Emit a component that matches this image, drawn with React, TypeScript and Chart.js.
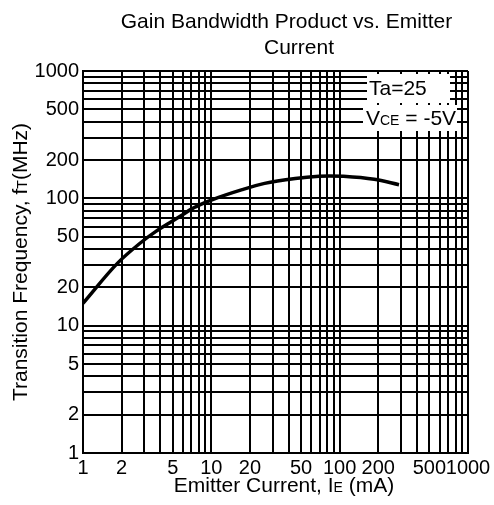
import React, { useEffect, useRef } from "react";
import { Chart, registerables } from "chart.js";

Chart.register(...registerables);

// ---- data ----
const emitterCurrentMA = [1, 1.86, 2.75, 3.7, 4.7, 5.8, 7.1, 8.8, 10, 17.4, 26, 45, 69, 83, 107, 186, 290];
const transitionFreqMHz = [15, 31, 44, 55, 64, 73, 83, 92, 97, 117, 131, 143, 149, 150, 149, 141, 128];

const xTickLabels = [1, 2, 5, 10, 20, 50, 100, 200, 500, 1000];
const yTickLabels = [1, 2, 5, 10, 20, 50, 100, 200, 500, 1000];
const gridMantissas = [1, 2, 3, 4, 5, 6, 7, 8, 9];
const gridDecades = [1, 10, 100];
const axisMin = 1;
const axisMax = 1000;

const titleLines = ["Gain Bandwidth Product vs. Emitter", "Current"];
const FONT = '"Liberation Sans", Arial, sans-serif';

type Seg = { text: string; size: number };

function drawRich(ctx: CanvasRenderingContext2D, segs: Seg[], x: number, y: number, align: "left" | "center") {
  let total = 0;
  const widths = segs.map((s) => {
    ctx.font = `${s.size}px ${FONT}`;
    const w = ctx.measureText(s.text).width;
    total += w;
    return w;
  });
  let cx = align === "center" ? x - total / 2 : x;
  ctx.textAlign = "left";
  ctx.textBaseline = "alphabetic";
  segs.forEach((s, i) => {
    ctx.font = `${s.size}px ${FONT}`;
    ctx.fillText(s.text, cx, y);
    cx += widths[i];
  });
}

function gridTicks() {
  const vals: { value: number }[] = [];
  gridDecades.forEach((d) => gridMantissas.forEach((m) => vals.push({ value: m * d })));
  vals.push({ value: axisMax });
  return vals;
}

const textPlugin = {
  id: "textPlugin",
  afterDraw(chart: any) {
    const ctx: CanvasRenderingContext2D = chart.ctx;
    const area = chart.chartArea;
    ctx.save();
    ctx.fillStyle = "#000";
    // title
    ctx.font = `21px ${FONT}`;
    ctx.textAlign = "center";
    ctx.textBaseline = "alphabetic";
    ctx.fillText(titleLines[0], 286.5, 28);
    ctx.fillText(titleLines[1], 299, 54);

    // condition boxes
    ctx.fillStyle = "#fff";
    ctx.fillRect(area.right - 101, area.top + 3, 83, 29);
    ctx.fillRect(area.right - 105, area.top + 34, 94, 26);
    ctx.fillStyle = "#000";
    drawRich(ctx, [{ text: "Ta=25", size: 21 }], area.right - 99, area.top + 24, "left");
    drawRich(
      ctx,
      [
        { text: "V", size: 21 },
        { text: "CE", size: 14 },
        { text: " = -5V", size: 21 },
      ],
      area.right - 102,
      area.top + 54,
      "left"
    );

    // x axis title
    drawRich(
      ctx,
      [
        { text: "Emitter Current, I", size: 21 },
        { text: "E", size: 14 },
        { text: " (mA)", size: 21 },
      ],
      284,
      492,
      "center"
    );

    // y axis title
    ctx.translate(27, (area.top + area.bottom) / 2);
    ctx.rotate(-Math.PI / 2);
    drawRich(
      ctx,
      [
        { text: "Transition Frequency, f", size: 21 },
        { text: "T", size: 14 },
        { text: "(MHz)", size: 21 },
      ],
      0,
      0,
      "center"
    );
    ctx.restore();
  },
};

export default function App() {
  const ref = useRef<HTMLCanvasElement | null>(null);

  useEffect(() => {
    if (!ref.current) return;
    const chart = new Chart(ref.current, {
      type: "line",
      data: {
        datasets: [
          {
            data: emitterCurrentMA.map((x, i) => ({ x, y: transitionFreqMHz[i] })),
            borderColor: "#000",
            borderWidth: 3.5,
            pointRadius: 0,
            tension: 0.4,
            cubicInterpolationMode: "monotone",
            fill: false,
          },
        ],
      },
      options: {
        responsive: false,
        animation: false,
        layout: { padding: { top: 71, right: 26, left: 0, bottom: 0 } },
        plugins: {
          legend: { display: false },
          title: { display: false },
          tooltip: { enabled: false },
        },
        scales: {
          x: {
            type: "logarithmic",
            min: axisMin,
            max: axisMax,
            afterBuildTicks: (scale: any) => {
              scale.ticks = gridTicks();
            },
            afterFit: (scale: any) => {
              scale.height = 52;
              scale.paddingLeft = 0;
              scale.paddingRight = 0;
            },
            grid: { color: "#000", lineWidth: 2, drawTicks: false },
            border: { display: true, color: "#000", width: 2 },
            ticks: {
              autoSkip: false,
              maxRotation: 0,
              padding: 3,
              color: "#000",
              font: { family: FONT, size: 20 },
              callback: (v: any) => (xTickLabels.includes(Number(v)) ? String(v) : ""),
            },
          },
          y: {
            type: "logarithmic",
            min: axisMin,
            max: axisMax,
            afterBuildTicks: (scale: any) => {
              scale.ticks = gridTicks();
            },
            afterFit: (scale: any) => {
              scale.width = 83;
              scale.paddingTop = 0;
              scale.paddingBottom = 0;
            },
            grid: { color: "#000", lineWidth: 2, drawTicks: false },
            border: { display: true, color: "#000", width: 2 },
            ticks: {
              autoSkip: false,
              padding: 4,
              color: "#000",
              font: { family: FONT, size: 20 },
              callback: (v: any) => (yTickLabels.includes(Number(v)) ? String(v) : ""),
            },
          },
        },
      },
      plugins: [textPlugin],
    } as any);
    return () => chart.destroy();
  }, []);

  return (
    <div style={{ position: "fixed", left: 0, top: 0, width: 494, height: 505, background: "#fff" }}>
      <canvas ref={ref} width={494} height={505} style={{ display: "block" }} />
    </div>
  );
}
